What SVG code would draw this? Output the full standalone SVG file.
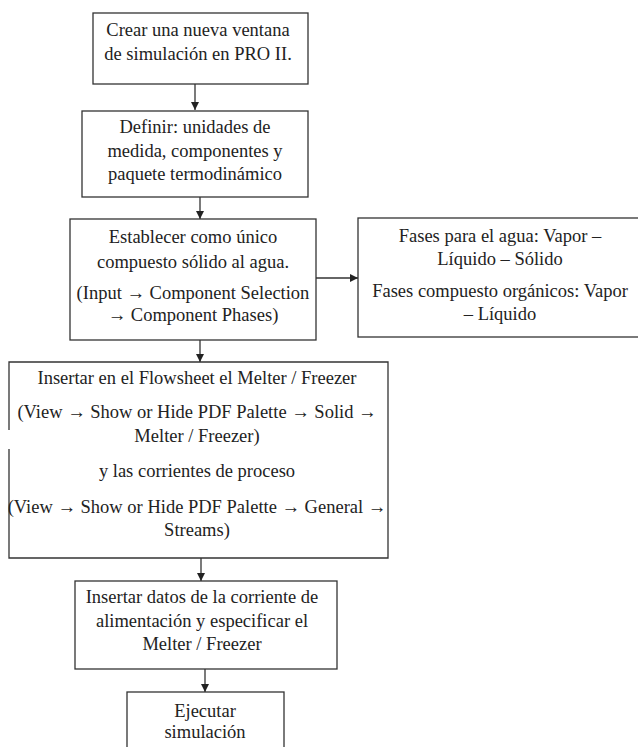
<svg xmlns="http://www.w3.org/2000/svg" width="638" height="747" viewBox="0 0 638 747">
  <defs>
    <style>
      .box { fill: #ffffff; stroke: #333333; stroke-width: 1.3; }
      .edge { fill: none; stroke: #333333; stroke-width: 1.3; }
      text { font-family: "Liberation Serif", "Times New Roman", serif; font-size: 18.5px; fill: #222222; text-anchor: middle; }
    </style>
    <marker id="arrow" viewBox="0 0 10 10" refX="10" refY="5" markerWidth="8" markerHeight="8" markerUnits="userSpaceOnUse" orient="auto">
      <path d="M0,0 L10,5 L0,10 Z" fill="#222222"/>
    </marker>
  </defs>
  <rect width="638" height="747" fill="#ffffff"/>

  <g id="connectors">
    <line class="edge" x1="195" y1="84" x2="195" y2="110" marker-end="url(#arrow)"/>
    <line class="edge" x1="200" y1="197" x2="200" y2="219" marker-end="url(#arrow)"/>
    <line class="edge" x1="316" y1="278" x2="358" y2="278" marker-end="url(#arrow)"/>
    <line class="edge" x1="200" y1="340" x2="200" y2="362" marker-end="url(#arrow)"/>
    <line class="edge" x1="201" y1="558" x2="201" y2="581" marker-end="url(#arrow)"/>
    <line class="edge" x1="205" y1="669" x2="205" y2="692" marker-end="url(#arrow)"/>
  </g>

  <g id="node-crear">
    <rect class="box" x="93" y="13" width="215" height="71"/>
    <text x="198" y="36">Crear una nueva ventana</text>
    <text x="198" y="60">de simulación en PRO II.</text>
  </g>

  <g id="node-definir">
    <rect class="box" x="82" y="111" width="226" height="86"/>
    <text x="195" y="133">Definir: unidades de</text>
    <text x="195" y="157">medida, componentes y</text>
    <text x="195" y="180">paquete termodinámico</text>
  </g>

  <g id="node-establecer">
    <rect class="box" x="70" y="219" width="246" height="121"/>
    <text x="193" y="243">Establecer como único</text>
    <text x="193" y="268">compuesto sólido al agua.</text>
    <text x="193" y="299">(Input → Component Selection</text>
    <text x="193" y="321">→ Component Phases)</text>
  </g>

  <g id="node-fases">
    <rect class="box" x="358" y="218" width="290" height="119"/>
    <text x="500" y="242">Fases para el agua: Vapor –</text>
    <text x="500" y="265">Líquido – Sólido</text>
    <text x="500" y="297">Fases compuesto orgánicos: Vapor</text>
    <text x="500" y="320">– Líquido</text>
  </g>

  <g id="node-insertar">
    <rect x="9" y="362" width="379" height="196" fill="#ffffff" stroke="none"/>
    <path class="edge" d="M9,430 L9,362 L388,362 L388,558 L9,558 L9,449"/>
    <text x="197" y="384">Insertar en el Flowsheet el Melter / Freezer</text>
    <text x="197" y="418">(View → Show or Hide PDF Palette → Solid →</text>
    <text x="197" y="442">Melter / Freezer)</text>
    <text x="197" y="477">y las corrientes de proceso</text>
    <text x="197" y="513">(View → Show or Hide PDF Palette → General →</text>
    <text x="197" y="536">Streams)</text>
  </g>

  <g id="node-datos">
    <rect class="box" x="75" y="581" width="262" height="88"/>
    <text x="202" y="603">Insertar datos de la corriente de</text>
    <text x="202" y="627">alimentación y especificar el</text>
    <text x="202" y="650">Melter / Freezer</text>
  </g>

  <g id="node-ejecutar">
    <rect class="box" x="127" y="692" width="157" height="70"/>
    <text x="205" y="717">Ejecutar</text>
    <text x="205" y="738">simulación</text>
  </g>
</svg>
